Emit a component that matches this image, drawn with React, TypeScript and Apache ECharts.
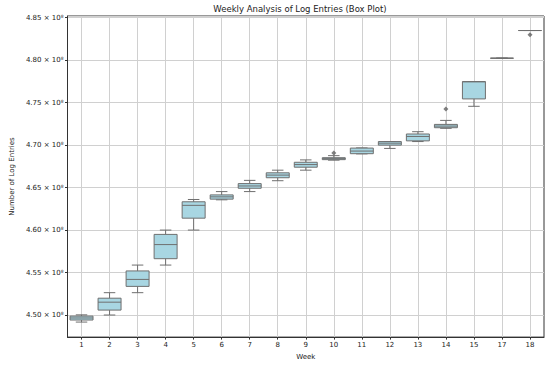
import React, { useEffect, useRef } from "react";
import * as echarts from "echarts";

const weeks = ["1", "2", "3", "4", "5", "6", "7", "8", "9", "10", "11", "12", "13", "14", "15", "17", "18"];
const mins = [4.4917e8, 4.5000e8, 4.5263e8, 4.5588e8, 4.6000e8, 4.6356e8, 4.6453e8, 4.6581e8, 4.6705e8, 4.6823e8, 4.6897e8, 4.6961e8, 4.7042e8, 4.7198e8, 4.7457e8, 4.8023e8, 4.8349e8];
const q1s = [4.4941e8, 4.5058e8, 4.5337e8, 4.5663e8, 4.6140e8, 4.6364e8, 4.6492e8, 4.6616e8, 4.6740e8, 4.6829e8, 4.6899e8, 4.7000e8, 4.7050e8, 4.7205e8, 4.7544e8, 4.8023e8, 4.8349e8];
const medians = [4.4965e8, 4.5151e8, 4.5419e8, 4.5829e8, 4.6291e8, 4.6391e8, 4.6519e8, 4.6647e8, 4.6771e8, 4.6841e8, 4.6930e8, 4.7023e8, 4.7102e8, 4.7224e8, 4.7745e8, 4.8023e8, 4.8349e8];
const q3s = [4.4987e8, 4.5198e8, 4.5519e8, 4.5949e8, 4.6333e8, 4.6414e8, 4.6547e8, 4.6674e8, 4.6798e8, 4.6852e8, 4.6965e8, 4.7042e8, 4.7131e8, 4.7244e8, 4.7748e8, 4.8023e8, 4.8349e8];
const maxs = [4.5002e8, 4.5263e8, 4.5588e8, 4.6000e8, 4.6360e8, 4.6453e8, 4.6585e8, 4.6705e8, 4.6826e8, 4.6876e8, 4.6967e8, 4.7042e8, 4.7158e8, 4.7291e8, 4.7748e8, 4.8023e8, 4.8349e8];
const outlierWeeks = ["10", "14", "18"];
const outlierValues = [4.6907e8, 4.7426e8, 4.8298e8];

const FONT = "DejaVu Sans";
const BOX_FILL = "#a8d6e2";
const LINE = "#6f6f6f";

export default function App() {
  const ref = useRef<HTMLDivElement>(null);
  useEffect(() => {
    if (!ref.current) return;
    const chart = echarts.init(ref.current, undefined, { renderer: "svg" });
    const boxData = weeks.map((w, i) => [i, mins[i], q1s[i], medians[i], q3s[i], maxs[i]]);
    const outData = outlierWeeks.map((w, i) => [w, outlierValues[i]]);
    chart.setOption({
      animation: false,
      backgroundColor: "#ffffff",
      textStyle: { fontFamily: FONT },
      title: {
        text: "Weekly Analysis of Log Entries (Box Plot)",
        left: 300,
        textAlign: "center",
        top: 4,
        padding: 0,
        textStyle: { fontFamily: FONT, fontSize: 8.5, fontWeight: "normal", color: "#222" },
      },
      grid: {
        left: 55,
        top: 16,
        width: 489,
        height: 325,
        show: true,
        borderColor: "#333",
        borderWidth: 1,
        backgroundColor: "transparent",
      },
      xAxis: {
        type: "category",
        data: weeks,
        name: "Week",
        nameLocation: "middle",
        nameGap: 15,
        nameTextStyle: { fontFamily: FONT, fontSize: 7, color: "#222" },
        axisLine: { show: true, lineStyle: { color: "#333", width: 1 } },
        axisTick: { show: true, alignWithLabel: true, length: 2.5, lineStyle: { color: "#333" } },
        axisLabel: { fontFamily: FONT, fontSize: 7, color: "#222", margin: 4, interval: 0 },
        splitLine: { show: true, alignWithLabel: true, lineStyle: { color: "#d0d0d0", width: 1 } },
      },
      yAxis: {
        type: "value",
        min: 4.474e8,
        max: 4.852e8,
        splitNumber: 8,
        name: "Number of Log Entries",
        nameLocation: "middle",
        nameGap: 47,
        nameTextStyle: { fontFamily: FONT, fontSize: 7, color: "#222" },
        axisLine: { show: true, lineStyle: { color: "#333", width: 1 } },
        axisTick: { show: true, length: 2.5, lineStyle: { color: "#333" } },
        axisLabel: {
          fontFamily: FONT,
          fontSize: 7,
          color: "#222",
          margin: 4,
          showMinLabel: false,
          showMaxLabel: false,
          formatter: (v: number) => (v / 1e8).toFixed(2) + " × 10⁸",
        },
        splitLine: { show: true, lineStyle: { color: "#d0d0d0", width: 1 } },
      },
      series: [
        {
          type: "custom",
          data: boxData,
          encode: { x: 0, y: [1, 2, 3, 4, 5] },
          renderItem: (params: any, api: any) => {
            const x = api.value(0);
            const lo = api.coord([x, api.value(1)]);
            const q1 = api.coord([x, api.value(2)]);
            const md = api.coord([x, api.value(3)]);
            const q3 = api.coord([x, api.value(4)]);
            const hi = api.coord([x, api.value(5)]);
            const band = api.size([1, 0])[0];
            const bw = band * 0.82;
            const cw = bw / 2;
            const cx = lo[0];
            const ls = { stroke: LINE, lineWidth: 1 };
            return {
              type: "group",
              children: [
                { type: "line", shape: { x1: cx, y1: q1[1], x2: cx, y2: lo[1] }, style: ls },
                { type: "line", shape: { x1: cx, y1: q3[1], x2: cx, y2: hi[1] }, style: ls },
                { type: "line", shape: { x1: cx - cw / 2, y1: lo[1], x2: cx + cw / 2, y2: lo[1] }, style: ls },
                { type: "line", shape: { x1: cx - cw / 2, y1: hi[1], x2: cx + cw / 2, y2: hi[1] }, style: ls },
                {
                  type: "rect",
                  shape: { x: cx - bw / 2, y: q3[1], width: bw, height: Math.max(q1[1] - q3[1], 0.01) },
                  style: { fill: BOX_FILL, stroke: LINE, lineWidth: 1 },
                },
                { type: "line", shape: { x1: cx - bw / 2, y1: md[1], x2: cx + bw / 2, y2: md[1] }, style: ls },
              ],
            };
          },
          z: 3,
        },
        {
          type: "scatter",
          data: outData,
          symbol: "diamond",
          symbolSize: 5,
          itemStyle: { color: "#5f5f5f" },
          z: 4,
        },
      ],
    });
    return () => chart.dispose();
  }, []);
  return <div ref={ref} style={{ position: "fixed", left: 0, top: 0, width: 550, height: 365 }} />;
}
